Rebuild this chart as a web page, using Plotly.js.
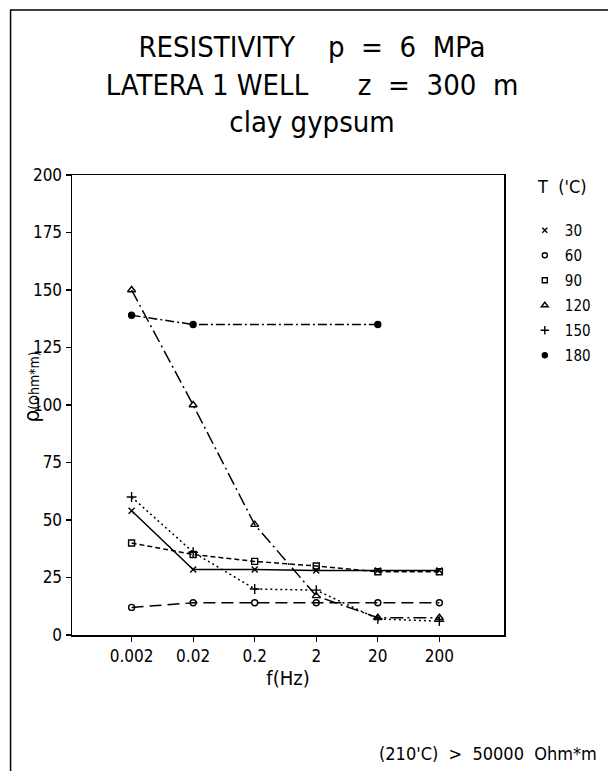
<!DOCTYPE html>
<html>
<head>
<meta charset="utf-8">
<script src="https://cdn.plot.ly/plotly-3.0.1.min.js"></script>
<style>
  html, body { margin: 0; padding: 0; background: #fff; }
  #chart { width: 608px; height: 771px; }
</style>
</head>
<body>
<div id="chart"></div>
<script>
// Frequencies (Hz) and resistivity (Ohm*m) per temperature
const freq = [0.002, 0.02, 0.2, 2, 20, 200];
const freqTickText = ["0.002", "0.02", "0.2", "2", "20", "200"];
const temps = ["30", "60", "90", "120", "150", "180"];

const rho30 = [54, 28.5, 28.5, 28, 28, 28];
const rho60 = [12, 14, 14, 14, 14, 14];
const rho90 = [40, 35, 32, 30, 27.5, 27.5];
const rho120 = [150, 100, 48, 17, 7.5, 7.5];
const rho150 = [60, 36, 20, 19.5, 7, 6];
const freq180 = [0.002, 0.02, 20];
const rho180 = [139, 135, 135];

const FONT = '"Liberation Sans Narrow", "DejaVu Sans Condensed", "Liberation Sans", sans-serif';
const NB = '\u00A0';
const sp = n => NB.repeat(n);

const styles = [
  { dash: 'solid',              symbol: 'x-thin-open',       size: 6 },
  { dash: '12px,6px',           symbol: 'circle-open',       size: 6 },
  { dash: '5px,3px',            symbol: 'square-open',       size: 6 },
  { dash: '13px,4px,2px,4px',   symbol: 'triangle-up-open',  size: 7 },
  { dash: '2px,3px',            symbol: 'cross-thin-open',   size: 7 },
  { dash: '9px,3px,2px,3px',    symbol: 'circle',            size: 6 }
];

const series = [
  { x: freq, y: rho30 },
  { x: freq, y: rho60 },
  { x: freq, y: rho90 },
  { x: freq, y: rho120 },
  { x: freq, y: rho150 },
  { x: freq180, y: rho180 }
];

const traces = [];
series.forEach((s, i) => {
  traces.push({
    type: 'scatter', mode: 'lines+markers',
    x: s.x, y: s.y, showlegend: false,
    line: { color: '#000', width: 1.5, dash: styles[i].dash },
    marker: { color: '#000', symbol: styles[i].symbol, size: styles[i].size,
              line: { color: '#000', width: 1.4 } }
  });
});
// marker-only legend entries
temps.forEach((t, i) => {
  traces.push({
    type: 'scatter', mode: 'markers', x: [null], y: [null],
    name: t, legendgroup: 'g' + i, showlegend: true,
    marker: { color: '#000', symbol: styles[i].symbol, size: styles[i].size - 1,
              line: { color: '#000', width: 1.4 } }
  });
});

const L = 72, R = 100, T = 175, B = 136;
const W = 608 - L - R, H = 771 - T - B;
const px = x => (x - L) / W;
const py = y => (771 - B - y) / H;

const layout = {
  width: 608, height: 771,
  margin: { l: L, r: R, t: T, b: B },
  paper_bgcolor: '#fff', plot_bgcolor: '#fff',
  font: { family: FONT, color: '#000', size: 17 },
  title: {
    text: 'RESISTIVITY' + sp(4) + 'p' + sp(2) + '=' + sp(2) + '6' + sp(2) + 'MPa<br>' +
          'LATERA' + sp(1) + '1' + sp(1) + 'WELL' + sp(6) + 'z' + sp(2) + '=' + sp(2) + '300' + sp(2) + 'm<br>' +
          'clay' + sp(1) + 'gypsum',
    font: { family: FONT, size: 29, color: '#000' },
    x: 312 / 608, xanchor: 'center', xref: 'container',
    y: 1 - 57 / 771, yanchor: 'top', yref: 'container'
  },
  xaxis: {
    type: 'log',
    range: [Math.log10(0.002) - 0.968, Math.log10(200) + 1.05],
    tickvals: freq, ticktext: freqTickText,
    ticks: 'outside', ticklen: 5, tickwidth: 1.2, tickcolor: '#000',
    showline: true, linecolor: '#000', linewidth: 1.5, mirror: true,
    showgrid: false, zeroline: false,
    tickfont: { family: FONT, size: 17 },
    title: { text: 'f(Hz)', font: { family: FONT, size: 20 }, standoff: 0 }
  },
  yaxis: {
    range: [0, 200], dtick: 25, tick0: 0,
    ticks: 'outside', ticklen: 5, tickwidth: 1.2, tickcolor: '#000',
    showline: true, linecolor: '#000', linewidth: 1.5, mirror: true,
    showgrid: false, zeroline: false,
    tickfont: { family: FONT, size: 17 }
  },
  legend: {
    x: px(529), xanchor: 'left', y: py(214), yanchor: 'top',
    bgcolor: 'rgba(0,0,0,0)', borderwidth: 0,
    font: { family: FONT, size: 15 },
    tracegroupgap: 2.5, itemwidth: 30
  },
  annotations: [
    {
      xref: 'paper', yref: 'paper', x: px(567), y: py(186),
      xanchor: 'center', yanchor: 'middle',
      text: 'T' + sp(2) + "('C)", showarrow: false,
      font: { family: FONT, size: 18 }
    },
    {
      xref: 'paper', yref: 'paper', x: px(31), y: py(387),
      xanchor: 'center', yanchor: 'middle',
      text: '<span style="font-size:22px">ρ</span>(Ohm*m)',
      textangle: -90, showarrow: false,
      font: { family: FONT, size: 14 }
    },
    {
      xref: 'paper', yref: 'paper', x: px(604), y: py(753),
      xanchor: 'right', yanchor: 'middle',
      text: "(210'C)" + sp(2) + '>' + sp(2) + '50000' + sp(2) + 'Ohm*m',
      showarrow: false, font: { family: FONT, size: 18 }
    }
  ],
  shapes: [
    {
      type: 'rect', xref: 'paper', yref: 'paper',
      x0: px(10), x1: px(640), y0: py(800), y1: py(10),
      line: { color: '#000', width: 1.5 }, fillcolor: 'rgba(0,0,0,0)', layer: 'below'
    }
  ]
};

Plotly.newPlot('chart', traces, layout, { displayModeBar: false, staticPlot: true });
</script>
</body>
</html>
